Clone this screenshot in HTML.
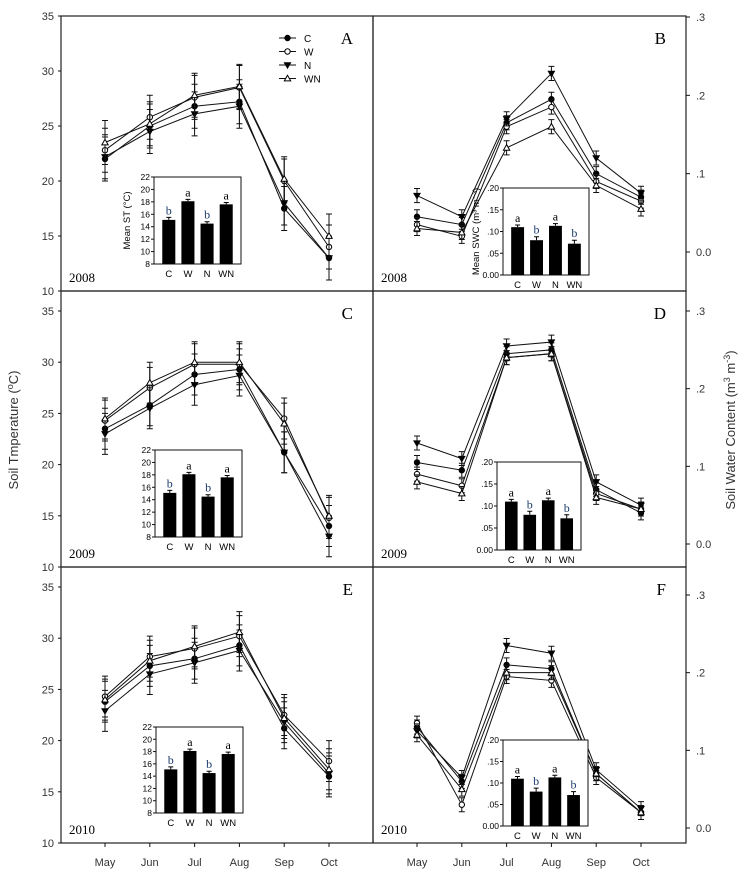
<!DOCTYPE html>
<html><head><meta charset="utf-8"><style>
html,body{margin:0;padding:0;background:#fff;}
svg{display:block;font-family:"Liberation Sans",sans-serif;}
</style></head><body>
<svg id="fig" width="748" height="876" viewBox="0 0 748 876"></svg>
<script>
const months=["May","Jun","Jul","Aug","Sep","Oct"];
const series=["C","W","N","WN"];
const insetCats=["C","W","N","WN"];
const stTicks=[10,15,20,25,30,35];
const swcTicks=[0,0.1,0.2,0.3];
const swcTickLabels=["0.0",".1",".2",".3"];
const stA=[[22.0,25.0,26.8,27.2,17.5,13.0],[22.8,25.8,27.6,28.5,20.0,14.0],[22.2,24.5,26.1,26.8,18.0,13.0],[23.5,25.2,27.8,28.6,20.2,15.0]];
const swcB=[[0.045,0.035,0.165,0.195,0.100,0.070],[0.035,0.020,0.160,0.185,0.090,0.065],[0.072,0.045,0.170,0.228,0.120,0.075],[0.030,0.025,0.133,0.160,0.085,0.055]];
const stC=[[23.5,25.8,28.8,29.3,21.2,14.0],[24.3,27.5,29.8,29.8,24.5,14.8],[23.0,25.5,27.8,28.7,21.2,13.0],[24.5,28.0,30.0,30.0,24.0,15.0]];
const swcD=[[0.105,0.095,0.245,0.250,0.070,0.040],[0.090,0.075,0.240,0.245,0.065,0.045],[0.130,0.110,0.255,0.260,0.080,0.050],[0.080,0.065,0.240,0.245,0.060,0.045]];
const stE=[[23.8,27.3,28.0,29.3,21.2,16.5],[24.3,28.2,29.0,30.2,22.5,18.0],[22.9,26.5,27.6,28.8,21.8,16.8],[24.0,27.8,29.2,30.6,22.2,17.2]];
const swcF=[[0.130,0.060,0.210,0.205,0.070,0.020],[0.135,0.030,0.195,0.190,0.065,0.020],[0.125,0.065,0.235,0.225,0.075,0.025],[0.120,0.050,0.200,0.200,0.070,0.020]];
const stErr=2.0, swcErr=0.009;
const insetST=[15.1,18.1,14.5,17.6];
const insetSTErr=[0.4,0.3,0.3,0.3];
const insetSWC=[0.110,0.080,0.113,0.072];
const insetSWCErr=[0.005,0.008,0.005,0.008];
const insetLetters=["b","a","b","a"];
const insetSWCLetters=["a","b","a","b"];
const stInsetTicks=[8,10,12,14,16,18,20,22];
const swcInsetTicks=[0,0.05,0.10,0.15,0.20];
const swcInsetLabels=["0.00",".05",".10",".15",".20"];

const NS="http://www.w3.org/2000/svg";
const svg=document.getElementById('fig');
function el(tag,attrs,parent,text){const e=document.createElementNS(NS,tag);for(const k in attrs)e.setAttribute(k,attrs[k]);if(text!==undefined)e.textContent=text;(parent||svg).appendChild(e);return e;}

const leftX=[61,373], rightX=[373,686];
function xScale(i,left){const a=left?leftX:rightX;const x0=a[0]+44,x1=a[0]+268;return x0+(x1-x0)*i/5;}

function marker(g,kind,x,y){
  let m;
  if(kind===0||kind===1){m=el('circle',{cx:x,cy:y,r:2.7,fill:kind===0?'#000':'#fff',stroke:'#000','stroke-width':1},g);}
  else if(kind===2){m=el('polygon',{points:`${x-3.1},${y-2.2} ${x+3.1},${y-2.2} ${x},${y+3.1}`,fill:'#000',stroke:'#000','stroke-width':1},g);}
  else {m=el('polygon',{points:`${x-3.2},${y+2.4} ${x+3.2},${y+2.4} ${x},${y-3.2}`,fill:'#fff',stroke:'#000','stroke-width':1},g);}
  
  
}

function panel(name,letter,year,left,top,bottom,v0,v1,yTop,yBot,data,err,legend){
  const a=left?leftX:rightX;
  const g=el('g',{},svg);
  
  
  const ys=v=>yBot+(v-v0)*(yTop-yBot)/(v1-v0);
  el('rect',{x:a[0],y:top,width:a[1]-a[0],height:bottom-top,fill:'none',stroke:'#222','stroke-width':1.2},g);
  const lt=el('text',{x:a[1]-20,y:top+28,'font-family':'Liberation Serif,serif','font-size':17,'text-anchor':'end'},g,letter);
  
  const yt=el('text',{x:a[0]+8,y:bottom-9,'font-family':'Liberation Serif,serif','font-size':13},g,year);
  
  data.forEach((s,si)=>{
    const pts=s.map((v,i)=>[xScale(i,left),ys(v)]);
    const l=el('polyline',{points:pts.map(p=>p.join(',')).join(' '),fill:'none',stroke:'#111','stroke-width':1},g);
    
    
    s.forEach((v,i)=>{
      const x=xScale(i,left),yh=ys(v+err),yl=ys(v-err);
      const e=el('path',{d:`M${x},${yh}V${yl}M${x-3},${yh}h6M${x-3},${yl}h6`,stroke:'#111','stroke-width':1,fill:'none'},g);
      
      
    });
    pts.forEach(p=>marker(g,si,p[0],p[1]));
  });
  if(legend){
    series.forEach((s,i)=>{
      const ly=38+i*13.5;
      el('line',{x1:279,x2:296,y1:ly,y2:ly,stroke:'#111','stroke-width':1},g);
      marker(g,i,287.5,ly);
      const t=el('text',{x:304,y:ly+4,'font-size':10},g,s);
      
    });
  }
  return ys;
}

function inset(x0,y0,w,h,vals,errs,letters,ticks,labels,vmin,vmax,ylab){
  const g=el('g',{},svg);
  
  
  el('rect',{x:x0,y:y0,width:w,height:h,fill:'#fff',stroke:'#111','stroke-width':1},g);
  const ys=v=>y0+h-(v-vmin)/(vmax-vmin)*h;
  ticks.forEach((t,i)=>{
    el('line',{x1:x0-3,x2:x0,y1:ys(t),y2:ys(t),stroke:'#111'},g);
    const tt=el('text',{x:x0-4,y:ys(t)+3,'font-size':8.5,'text-anchor':'end'},g,labels[i]);
    
  });
  const bw=w*0.15;
  vals.forEach((v,i)=>{
    const cx=x0+w*(0.17+0.22*i);
    const b=el('rect',{x:cx-bw/2,y:ys(v),width:bw,height:y0+h-ys(v),fill:'#000'},g);
    
    
    el('path',{d:`M${cx},${ys(v)}V${ys(v+errs[i])}M${cx-2.5},${ys(v+errs[i])}h5`,stroke:'#000','stroke-width':1},g);
    const lt=el('text',{x:cx,y:ys(v+errs[i])-3,'font-family':'Liberation Serif,serif','font-size':12,'text-anchor':'middle',fill:letters[i]==='b'?'#1a3a6a':'#000'},g,letters[i]);
    
    const ct=el('text',{x:cx,y:y0+h+13,'font-size':9.5,'text-anchor':'middle'},g,insetCats[i]);
    
  });
  if(ylab){
    const cy=y0+h/2;
    const t=el('text',{x:x0-24,y:cy,'font-size':9.5,'text-anchor':'middle',transform:`rotate(-90 ${x0-24} ${cy})`},g,ylab);
    
  }
}

function stAxis(ys){
  stTicks.forEach(t=>{
    el('line',{x1:58,x2:61,y1:ys(t),y2:ys(t),stroke:'#111'});
    const tt=el('text',{x:54,y:ys(t)+4,'font-size':11,'text-anchor':'end',fill:'#333'},svg,String(t));
    
  });
}
function swcAxis(ys){
  swcTicks.forEach((t,i)=>{
    el('line',{x1:686,x2:690,y1:ys(t),y2:ys(t),stroke:'#111'});
    const tt=el('text',{x:696,y:ys(t)+4,'font-size':11,fill:'#333'},svg,swcTickLabels[i]);
    
  });
}

let ys;
ys=panel('a','A','2008',true,16,291,10,35,16,291,stA,stErr,true);stAxis(ys);
ys=panel('b','B','2008',false,16,291,0,0.3,17,252,swcB,swcErr,false);swcAxis(ys);
ys=panel('c','C','2009',true,291,567,10,35,311,567,stC,stErr,false);stAxis(ys);
ys=panel('d','D','2009',false,291,567,0,0.3,311,544,swcD,swcErr,false);swcAxis(ys);
ys=panel('e','E','2010',true,567,843,10,35,587,843,stE,stErr,false);stAxis(ys);
ys=panel('f','F','2010',false,567,843,0,0.3,595,828,swcF,swcErr,false);swcAxis(ys);

inset(154,177,87,87,insetST,insetSTErr,insetLetters,stInsetTicks,stInsetTicks.map(String),8,22,'Mean ST (°C)');
inset(503,188,86,87,insetSWC,insetSWCErr,insetSWCLetters,swcInsetTicks,swcInsetLabels,0,0.2,'Mean SWC (m³ m⁻³)');
inset(155,450,87,87,insetST,insetSTErr,insetLetters,stInsetTicks,stInsetTicks.map(String),8,22,null);
inset(497,462,84,88,insetSWC,insetSWCErr,insetSWCLetters,swcInsetTicks,swcInsetLabels,0,0.2,null);
inset(156,727,87,86,insetST,insetSTErr,insetLetters,stInsetTicks,stInsetTicks.map(String),8,22,null);
inset(503,740,85,86,insetSWC,insetSWCErr,insetSWCLetters,swcInsetTicks,swcInsetLabels,0,0.2,null);

months.forEach((m,i)=>{
  [true,false].forEach(left=>{
    const x=xScale(i,left);
    el('line',{x1:x,x2:x,y1:843,y2:847,stroke:'#111'});
    const t=el('text',{x:x,y:866,'font-size':11,'text-anchor':'middle',fill:'#333'},svg,m);
    
  });
});

let t=el('text',{x:18,y:430,'font-size':13,'text-anchor':'middle',transform:'rotate(-90 18 430)',fill:'#333'},svg);

t.innerHTML='Soil Tmperature (<tspan baseline-shift="super" font-size="9">o</tspan>C)';
t=el('text',{x:735,y:430,'font-size':13,'text-anchor':'middle',transform:'rotate(-90 735 430)',fill:'#333'},svg);

t.innerHTML='Soil Water Content (m<tspan baseline-shift="super" font-size="9">3</tspan> m<tspan baseline-shift="super" font-size="9">-3</tspan>)';
</script>
</body></html>
